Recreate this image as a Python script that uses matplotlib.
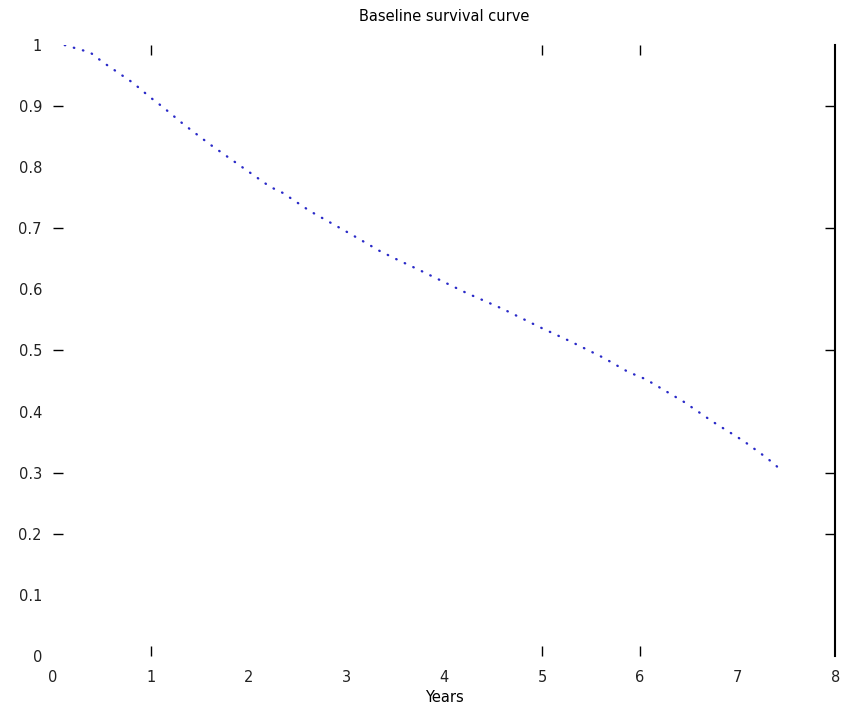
import matplotlib
matplotlib.use('Agg')
import matplotlib.pyplot as plt

# survival values
years = [0.12, 0.38, 0.51, 0.82, 0.99, 1.12, 1.33, 1.60, 1.83, 2.22, 2.35,
         2.63, 3.04, 3.34, 3.53, 3.73, 4.23, 4.60, 4.98, 5.29, 5.63, 5.88,
         6.06, 6.45, 6.75, 7.06, 7.30, 7.47]
survival = [1.000, 0.988, 0.972, 0.938, 0.915, 0.899, 0.871, 0.838, 0.812,
            0.768, 0.758, 0.728, 0.691, 0.663, 0.648, 0.633, 0.594, 0.568,
            0.538, 0.515, 0.488, 0.465, 0.453, 0.416, 0.383, 0.352, 0.324,
            0.301]

xtick_vals = [0, 1, 2, 3, 4, 5, 6, 7, 8]
ytick_vals = [0, 0.1, 0.2, 0.3, 0.4, 0.5, 0.6, 0.7, 0.8, 0.9, 1]
ytick_labels = ['0', '0.1', '0.2', '0.3', '0.4', '0.5', '0.6', '0.7', '0.8', '0.9', '1']
# only some tick marks survive in the original picture
x_marks = [1, 5, 6]
y_marks = [0.2, 0.3, 0.5, 0.7, 0.9]

fig = plt.figure(figsize=(8.55, 7.16), dpi=100)
ax = fig.add_axes([0.062, 0.084, 0.915, 0.853])

ax.plot(years, survival, color='#2a2ac8', linewidth=1.7,
        linestyle=(0, (0.2, 3.8)), dash_capstyle='round')

ax.set_xlim(0, 8)
ax.set_ylim(0, 1)

for side in ['left', 'top', 'bottom']:
    ax.spines[side].set_visible(False)
ax.spines['right'].set_linewidth(1.5)

ax.set_xticks(xtick_vals)
ax.set_xticklabels([str(v) for v in xtick_vals])
ax.set_yticks(ytick_vals)
ax.set_yticklabels(ytick_labels)
ax.tick_params(which='major', length=0, labelsize=10.5, colors='#222222')
ax.tick_params(axis='x', which='major', pad=10)
ax.tick_params(axis='y', which='major', pad=8)

# keep the minor marks even where they sit on a major tick
ax.xaxis.remove_overlapping_locs = False
ax.yaxis.remove_overlapping_locs = False
ax.set_xticks(x_marks, minor=True)
ax.set_yticks(y_marks, minor=True)
ax.tick_params(axis='x', which='minor', direction='in', length=7, width=1.0,
               top=True, bottom=True, labelbottom=False)
ax.tick_params(axis='y', which='minor', direction='in', length=7, width=1.0,
               left=True, right=True, labelleft=False)

ax.set_title('Baseline survival curve', fontsize=10.5, pad=17)
ax.set_xlabel('Years', fontsize=10.5, labelpad=4)

plt.savefig('out.png', dpi=100)
plt.close()
